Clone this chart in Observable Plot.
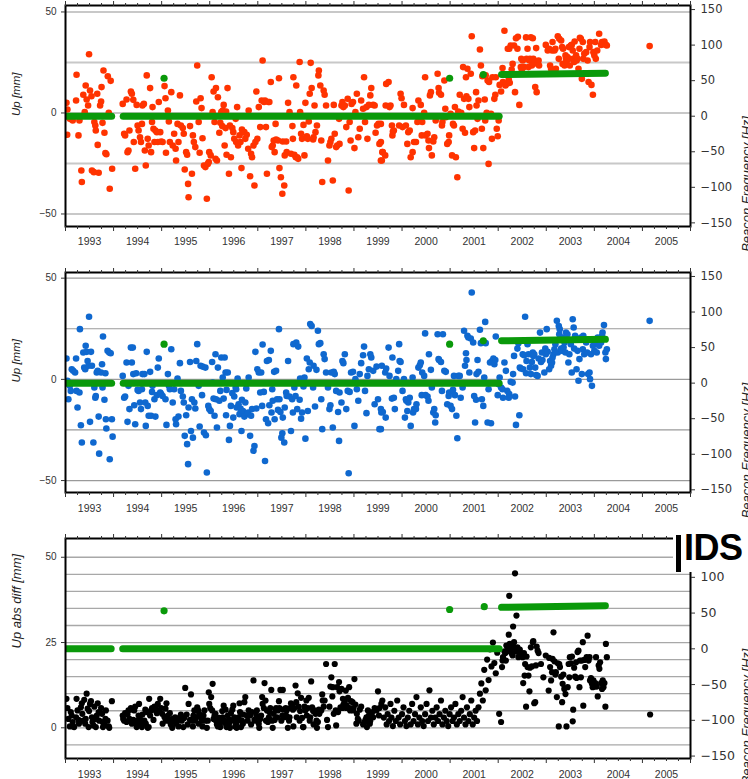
<!DOCTYPE html>
<html><head><meta charset="utf-8">
<script src="https://cdn.jsdelivr.net/npm/d3@7"></script>
<script src="https://cdn.jsdelivr.net/npm/@observablehq/plot@0.6"></script>
<style>
body{margin:0;background:#fff;font-family:"Liberation Sans",Arial,Helvetica,sans-serif;}
#wrap{position:relative;width:748px;height:779px;overflow:hidden;background:#fff;}
#wrap svg{display:block;}
#ids{position:absolute;left:673px;top:524px;width:75px;height:48px;background:#fff;}
#ids .bar{position:absolute;left:3px;top:11px;width:5px;height:37px;background:#000;}
#ids .txt{position:absolute;left:11px;top:4px;font:bold 36px "Liberation Sans",Arial,sans-serif;color:#000;line-height:40px;letter-spacing:-0.5px;}
</style></head>
<body><div id="wrap"><div id="ids"><div class="bar"></div><div class="txt">IDS</div></div></div>
<script>
// ---------- DATA ----------
const yearLabels = ["1993","1994","1995","1996","1997","1998","1999","2000","2001","2002","2003","2004","2005"];
const hzTicks = [-150,-100,-50,0,50,100,150];
const hzTicksLower = [-150,-100,-50,0,50,100];

// Panel 1 (red): [decimal year, Up mm]
const upRed = [
[1993.02,5.0],[1993.04,1.7],[1993.035,-10.8],[1993.09,-2.9],[1993.15,-3.7],[1993.22,6.2],[1993.23,18.9],[1993.27,-11.1],[1993.29,-3.7],[1993.33,-28.5],[1993.34,-34.2],[1993.37,9.0],[1993.40,0.4],[1993.42,13.6],[1993.44,6.7],[1993.47,3.7],[1993.49,29.1],[1993.51,11.1],[1993.54,8.3],[1993.55,-28.5],[1993.59,-29.3],[1993.60,-4.5],[1993.62,-6.2],[1993.63,-8.7],[1993.66,9.5],[1993.67,-15.8],[1993.69,-29.6],[1993.72,3.7],[1993.74,5.7],[1993.75,12.8],[1993.77,-4.9],[1993.79,21.0],[1993.81,-9.8],[1993.83,-19.9],[1993.85,-20.4],[1993.88,18.2],[1993.90,0.1],[1993.92,-37.5],[1993.94,15.9],[1993.97,-27.6],
[1994.19,4.5],[1994.22,-10.3],[1994.24,-11.1],[1994.27,6.7],[1994.29,-19.4],[1994.31,-18.6],[1994.33,-8.7],[1994.36,10.6],[1994.38,9.5],[1994.41,6.5],[1994.42,-14.4],[1994.45,-27.6],[1994.48,4.0],[1994.50,-6.2],[1994.52,-8.7],[1994.55,-12.0],[1994.57,-14.4],[1994.59,-5.4],[1994.60,3.7],[1994.63,4.5],[1994.65,-18.6],[1994.67,-26.0],[1994.69,18.6],[1994.71,-12.8],[1994.73,-16.1],[1994.76,12.3],[1994.78,-19.4],[1994.80,-4.5],[1994.81,2.9],[1994.83,-7.8],[1994.85,-14.4],[1994.87,-8.7],[1994.90,-9.5],[1994.92,-14.4],[1994.94,5.4],[1994.97,-9.5],[1994.99,-14.1],
[1995.02,-14.4],[1995.06,13.3],[1995.08,7.3],[1995.09,-19.7],[1995.13,1.2],[1995.15,-4.2],[1995.17,-14.4],[1995.20,10.3],[1995.23,-16.1],[1995.26,-10.3],[1995.29,-17.7],[1995.30,-23.5],[1995.33,-5.4],[1995.35,-14.4],[1995.38,8.7],[1995.40,-6.2],[1995.44,-7.5],[1995.46,-10.3],[1995.48,-28.0],[1995.51,-19.4],[1995.53,-20.7],[1995.55,-35.1],[1995.56,-41.7],[1995.59,-6.5],[1995.63,-30.1],[1995.65,-11.1],[1995.67,-14.4],[1995.70,-16.9],[1995.72,5.7],[1995.74,23.5],[1995.77,-4.5],[1995.79,-19.7],[1995.81,7.3],[1995.83,2.4],[1995.85,-12.5],[1995.88,-26.0],[1995.91,-26.8],[1995.94,-42.5],[1995.96,-25.2],[1995.98,-24.3],[1995.99,-19.4],
[1996.02,-21.0],[1996.04,17.7],[1996.06,0.4],[1996.08,10.6],[1996.10,-4.5],[1996.12,-22.7],[1996.13,12.3],[1996.15,-23.5],[1996.17,7.8],[1996.20,-9.8],[1996.22,-4.9],[1996.24,0.4],[1996.26,-6.5],[1996.27,1.2],[1996.29,4.0],[1996.31,-16.1],[1996.33,-7.5],[1996.34,0.7],[1996.35,-20.7],[1996.37,12.3],[1996.40,-30.1],[1996.42,-6.2],[1996.44,-21.9],[1996.47,-7.5],[1996.49,-9.5],[1996.51,-12.8],[1996.54,-2.9],[1996.55,-14.4],[1996.57,2.9],[1996.59,-16.1],[1996.62,-11.1],[1996.64,-14.4],[1996.66,-27.3],[1996.67,-8.2],[1996.69,-9.5],[1996.72,-9.5],[1996.74,-12.8],[1996.77,-10.8],[1996.80,-17.7],[1996.81,1.2],[1996.84,-31.3],[1996.86,-20.2],[1996.88,-21.9],[1996.91,-16.1],[1996.93,-35.9],[1996.95,-14.4],[1996.97,10.6],[1996.99,-12.8],
[1997.02,2.9],[1997.05,-7.0],[1997.08,6.2],[1997.10,26.0],[1997.13,5.4],[1997.15,6.2],[1997.17,-7.0],[1997.19,-30.1],[1997.22,5.4],[1997.24,5.4],[1997.27,15.3],[1997.29,-16.9],[1997.31,-16.1],[1997.33,-13.6],[1997.35,-19.4],[1997.37,-5.4],[1997.38,-13.1],[1997.42,-13.6],[1997.44,17.2],[1997.45,-27.3],[1997.48,-31.8],[1997.51,-40.0],[1997.52,-14.1],[1997.55,-35.9],[1997.56,-21.0],[1997.59,-14.1],[1997.60,-19.4],[1997.63,5.0],[1997.66,0.4],[1997.69,-20.2],[1997.72,-6.5],[1997.73,-12.8],[1997.74,17.7],[1997.76,-20.7],[1997.79,-21.9],[1997.80,13.6],[1997.82,-21.9],[1997.84,-22.7],[1997.87,25.2],[1997.88,0.4],[1997.90,-10.3],[1997.92,-12.8],[1997.95,-5.9],[1997.97,-21.0],[1997.99,5.0],
[1998.02,-11.5],[1998.04,-12.8],[1998.06,-4.2],[1998.08,9.5],[1998.10,24.8],[1998.12,12.3],[1998.15,-13.1],[1998.16,-12.0],[1998.18,3.7],[1998.20,-9.5],[1998.23,-6.2],[1998.26,18.6],[1998.27,21.0],[1998.30,13.6],[1998.32,-13.6],[1998.34,-34.2],[1998.37,11.1],[1998.39,9.0],[1998.42,3.7],[1998.46,-23.5],[1998.49,-16.1],[1998.51,-14.4],[1998.53,-12.8],[1998.56,-33.4],[1998.58,4.0],[1998.60,-10.3],[1998.63,-16.9],[1998.65,-16.1],[1998.69,-2.9],[1998.70,-15.3],[1998.74,3.7],[1998.76,5.4],[1998.78,2.9],[1998.81,3.7],[1998.84,-7.0],[1998.87,7.0],[1998.89,-38.4],[1998.91,-4.5],[1998.93,-13.6],[1998.95,4.5],[1998.98,5.4],
[1999.01,-17.4],[1999.03,0.4],[1999.06,9.5],[1999.09,-12.0],[1999.12,-7.8],[1999.15,6.2],[1999.19,2.1],[1999.21,17.7],[1999.23,-4.5],[1999.26,2.9],[1999.28,-12.8],[1999.31,4.0],[1999.34,8.7],[1999.36,12.3],[1999.40,4.0],[1999.43,3.7],[1999.45,-9.8],[1999.48,-6.2],[1999.51,-5.4],[1999.53,-15.3],[1999.56,-23.5],[1999.59,-19.4],
[1999.56,-5.4],[1999.56,-14.4],[1999.58,-23.5],[1999.60,-19.4],[1999.65,-21.0],[1999.66,3.7],[1999.67,14.4],[1999.72,15.3],[1999.74,2.9],[1999.76,3.7],[1999.79,-6.2],[1999.80,-11.1],[1999.81,-9.2],[1999.83,-8.7],[1999.94,-6.2],[1999.97,9.5],[1999.99,7.3],
[2000.01,-7.0],[2000.04,4.0],[2000.08,-6.2],[2000.11,-15.3],[2000.13,-9.5],[2000.16,-8.7],[2000.18,-21.9],[2000.22,2.4],[2000.22,-19.4],[2000.25,-14.4],[2000.29,-14.4],[2000.32,-4.5],[2000.34,6.2],[2000.35,-3.7],[2000.39,4.0],[2000.41,-11.1],[2000.42,-4.5],[2000.46,0.1],[2000.48,17.7],[2000.49,-11.1],[2000.53,-10.3],[2000.55,-13.6],[2000.56,-17.4],[2000.58,8.7],[2000.60,10.3],[2000.62,-21.0],[2000.65,-14.1],[2000.67,-12.0],[2000.70,-3.7],[2000.74,19.4],[2000.76,12.3],[2000.77,10.0],[2000.81,9.0],[2000.83,-6.2],[2000.84,-4.5],[2000.88,16.1],[2000.90,2.1],[2000.91,-2.1],[2000.94,-15.3],[2000.97,-14.4],[2000.98,-11.1],
[2001.01,-0.4],[2001.04,-21.0],[2001.06,-5.4],[2001.08,-6.2],[2001.10,2.9],[2001.12,-21.9],[2001.15,-31.8],[2001.17,0.7],[2001.20,9.0],[2001.23,0.1],[2001.26,-7.8],[2001.27,22.7],[2001.29,7.0],[2001.31,-9.8],[2001.33,17.7],[2001.34,8.3],[2001.36,21.9],[2001.38,7.0],[2001.40,2.9],[2001.43,19.4],[2001.45,38.0],[2001.48,-9.5],[2001.50,-17.4],[2001.52,-8.7],[2001.54,10.3],[2001.55,3.7],[2001.57,-2.9],[2001.59,6.2],[2001.62,31.4],[2001.64,23.5],[2001.66,-7.8],[2001.67,18.2],[2001.69,-17.4],[2001.72,6.7],[2001.73,-3.7],[2001.74,18.6],[2001.76,0.1],[2001.78,16.1],[2001.80,-25.2],[2001.81,15.3],[2001.85,-0.4],[2001.87,-12.8],[2001.88,17.7],[2001.92,7.0],[2001.94,9.0],[2001.95,17.7],[2001.97,-7.8],[2001.99,-11.5],
[2002.01,-3.7],[2002.03,13.9],[2002.06,10.6],[2002.09,22.2],[2002.10,15.3],[2002.13,40.7],[2002.15,13.6],[2002.17,14.4],[2002.20,31.8],[2002.22,16.6],[2002.23,31.8],[2002.24,14.9],[2002.26,33.4],[2002.28,21.5],[2002.30,24.3],[2002.33,33.4],[2002.35,10.3],[2002.37,37.0],[2002.40,31.8],[2002.41,37.7],[2002.44,4.0],[2002.47,22.7],[2002.48,26.8],[2002.49,21.5],[2002.51,26.0],[2002.54,22.7],[2002.58,37.4],[2002.59,26.8],[2002.61,31.8],[2002.63,22.7],[2002.65,26.0],[2002.66,26.8],[2002.68,37.5],[2002.70,23.5],[2002.72,37.0],[2002.73,26.8],[2002.75,24.8],[2002.77,12.8],[2002.79,32.1],[2002.80,10.3],[2002.82,24.3],[2002.84,26.0],[2002.85,23.5],[2002.99,33.7],
[2003.03,30.9],[2003.06,31.8],[2003.08,23.5],[2003.10,21.9],[2003.12,30.9],[2003.13,35.1],[2003.17,30.9],[2003.19,31.8],[2003.20,21.9],[2003.24,38.0],[2003.26,26.8],[2003.27,36.7],[2003.31,35.9],[2003.33,32.6],[2003.34,24.3],[2003.35,31.8],[2003.38,23.5],[2003.40,28.5],[2003.41,26.8],[2003.42,25.2],[2003.44,27.7],[2003.47,32.6],[2003.48,26.8],[2003.49,23.5],[2003.51,33.4],[2003.53,33.7],[2003.55,30.9],[2003.56,26.8],[2003.58,25.2],[2003.59,35.4],[2003.62,28.5],[2003.63,26.0],[2003.65,26.8],[2003.67,21.9],[2003.69,31.8],[2003.70,37.2],[2003.72,36.7],[2003.74,16.9],[2003.76,35.1],[2003.77,26.8],[2003.79,29.3],[2003.83,30.1],[2003.86,26.0],[2003.88,15.3],[2003.90,32.6],[2003.91,35.1],[2003.94,13.9],[2003.97,9.0],[2003.98,30.1],
[2004.00,28.5],[2004.02,35.1],[2004.03,26.8],[2004.06,30.9],[2004.10,39.2],[2004.14,33.7],[2004.16,35.1],[2004.19,34.2],[2004.21,35.4],[2004.24,33.7],[2004.26,33.4],[2005.15,33.1]
];

// Panel 2 (blue): [decimal year, Up mm]
const upBlue = [
[1993.02,10.3],[1993.04,-0.7],[1993.06,-9.8],[1993.09,-3.2],[1993.11,-5.7],[1993.13,5.0],[1993.16,4.2],[1993.20,3.4],[1993.22,10.3],[1993.23,-5.7],[1993.25,-13.9],[1993.29,-6.5],[1993.30,24.8],[1993.32,-22.7],[1993.34,-31.2],[1993.37,13.3],[1993.39,5.8],[1993.41,5.0],[1993.42,16.6],[1993.44,13.6],[1993.46,9.1],[1993.48,6.7],[1993.49,30.9],[1993.51,-21.0],[1993.53,13.6],[1993.55,6.7],[1993.58,-31.2],[1993.60,-4.0],[1993.62,-9.1],[1993.63,-8.2],[1993.65,3.4],[1993.67,4.2],[1993.69,-18.4],[1993.70,-36.7],[1993.74,3.4],[1993.76,7.5],[1993.77,-4.0],[1993.78,21.2],[1993.81,-10.1],[1993.83,3.0],[1993.84,-19.7],[1993.85,-24.3],[1993.875,14.1],[1993.91,13.3],[1993.92,-39.5],[1993.94,12.9],[1993.965,-19.7],[1993.98,-28.3],
[1994.19,1.7],[1994.22,-9.1],[1994.24,-8.5],[1994.27,8.3],[1994.29,-21.0],[1994.31,-3.2],[1994.33,-14.7],[1994.36,15.7],[1994.38,8.3],[1994.40,15.7],[1994.41,2.6],[1994.43,-12.8],[1994.45,-22.2],[1994.47,3.0],[1994.50,-5.2],[1994.52,-5.7],[1994.55,-11.4],[1994.57,-14.7],[1994.59,-4.9],[1994.60,2.6],[1994.64,2.6],[1994.66,-11.4],[1994.67,-23.0],[1994.69,13.6],[1994.71,-13.1],[1994.73,-18.0],[1994.76,3.7],[1994.78,-18.0],[1994.80,-6.2],[1994.81,-3.2],[1994.85,-9.8],[1994.87,-18.4],[1994.90,-7.8],[1994.92,5.8],[1994.94,10.3],[1994.97,-6.5],[1994.99,-7.3],
[1995.02,-8.2],[1995.08,-9.8],[1995.10,-22.5],[1995.13,2.6],[1995.15,-3.2],[1995.17,-4.9],[1995.20,14.9],[1995.23,-11.4],[1995.26,-4.9],[1995.29,-19.7],[1995.30,-22.2],[1995.33,0.4],[1995.35,-18.4],[1995.38,8.0],[1995.40,-5.7],[1995.44,-8.5],[1995.46,-11.4],[1995.48,-27.9],[1995.51,-17.7],[1995.53,-32.0],[1995.55,-41.9],[1995.56,-13.9],[1995.59,8.6],[1995.61,-25.5],[1995.63,-9.8],[1995.65,-28.8],[1995.68,-11.4],[1995.70,-14.4],[1995.72,9.1],[1995.74,17.4],[1995.77,-3.2],[1995.79,-23.3],[1995.81,6.7],[1995.84,-7.8],[1995.85,6.3],[1995.88,-26.3],[1995.91,5.8],[1995.92,-27.6],[1995.94,-46.0],[1995.97,-13.1],[1995.99,-14.7],
[1996.02,-15.6],[1996.05,8.6],[1996.06,-1.6],[1996.08,-9.5],[1996.10,-18.0],[1996.12,12.4],[1996.13,-9.8],[1996.15,-23.8],[1996.17,5.8],[1996.20,-10.6],[1996.22,-5.7],[1996.24,10.8],[1996.27,0.9],[1996.29,-9.5],[1996.31,10.8],[1996.33,3.4],[1996.34,-17.7],[1996.35,-5.2],[1996.375,3.4],[1996.40,-29.9],[1996.42,-23.0],[1996.44,-13.1],[1996.47,-6.8],[1996.49,-18.9],[1996.51,-8.5],[1996.54,-4.0],[1996.55,-4.9],[1996.56,-13.9],[1996.58,0.4],[1996.60,-12.3],[1996.62,-17.2],[1996.64,-14.4],[1996.66,-25.5],[1996.67,-10.1],[1996.69,-15.6],[1996.72,-18.4],[1996.74,-11.4],[1996.76,-4.5],[1996.78,-17.2],[1996.80,-16.4],[1996.81,0.9],[1996.84,-27.9],[1996.86,-18.0],[1996.88,-14.7],[1996.91,-35.3],[1996.93,-32.9],[1996.95,13.6],[1996.97,-14.4],[1996.99,5.0],
[1997.02,3.4],[1997.05,-6.5],[1997.07,3.4],[1997.09,-13.1],[1997.10,17.2],[1997.125,-6.2],[1997.15,-40.3],[1997.17,-19.7],[1997.19,9.1],[1997.215,-21.7],[1997.23,9.6],[1997.24,-12.8],[1997.27,14.1],[1997.285,-16.4],[1997.30,-4.9],[1997.31,-10.6],[1997.34,3.7],[1997.35,-19.7],[1997.38,4.2],[1997.40,-9.8],[1997.42,-15.1],[1997.44,24.8],[1997.45,-9.8],[1997.47,-16.1],[1997.49,-28.8],[1997.51,-26.6],[1997.52,-18.9],[1997.55,-31.2],[1997.56,-13.9],[1997.59,-6.5],[1997.60,-8.2],[1997.63,9.1],[1997.66,-8.5],[1997.69,-25.5],[1997.715,-9.8],[1997.73,-16.4],[1997.74,17.4],[1997.76,-4.0],[1997.785,-8.2],[1997.80,18.2],[1997.82,-14.7],[1997.84,16.2],[1997.87,-10.1],[1997.88,0.4],[1997.90,-19.4],[1997.92,-16.4],[1997.95,-3.5],[1997.97,0.9],[1997.99,-29.3],
[1998.02,10.3],[1998.04,-15.6],[1998.06,5.0],[1998.08,8.3],[1998.09,27.3],[1998.12,26.4],[1998.15,-4.0],[1998.16,6.7],[1998.19,-13.4],[1998.22,4.7],[1998.25,24.0],[1998.27,17.4],[1998.30,17.9],[1998.32,-9.8],[1998.34,-24.6],[1998.37,12.4],[1998.39,10.0],[1998.42,3.4],[1998.46,-4.0],[1998.49,-14.7],[1998.51,-12.8],[1998.53,3.4],[1998.56,-23.8],[1998.58,3.7],[1998.60,2.6],[1998.63,-5.7],[1998.67,-16.1],[1998.69,-30.4],[1998.70,-6.5],[1998.74,-11.4],[1998.76,9.1],[1998.78,8.0],[1998.81,12.4],[1998.84,-14.7],[1998.87,-5.7],[1998.89,-46.4],[1998.91,-6.2],[1998.94,3.4],[1998.98,3.7],
[1999.01,-23.0],[1999.03,0.1],[1999.06,-4.9],[1999.09,-10.6],[1999.12,2.6],[1999.15,8.0],[1999.19,11.9],[1999.21,16.2],[1999.23,-5.7],[1999.26,-16.7],[1999.28,1.7],[1999.31,5.0],[1999.34,12.4],[1999.36,10.8],[1999.40,4.2],[1999.43,-12.3],[1999.47,6.3],[1999.50,-9.8],[1999.53,-24.6],[1999.57,-16.4],
[1999.56,-14.7],[1999.56,-24.6],[1999.58,6.7],[1999.60,-16.1],[1999.65,3.4],[1999.66,-18.9],[1999.67,5.4],[1999.72,15.7],[1999.74,1.7],[1999.79,-9.5],[1999.80,10.8],[1999.83,-9.1],[1999.85,-14.7],[1999.88,0.1],[1999.92,4.2],[1999.94,17.4],[1999.95,9.1],[1999.97,8.6],
[2000.01,-5.7],[2000.04,0.1],[2000.06,-18.9],[2000.08,-9.8],[2000.09,-10.6],[2000.11,-15.6],[2000.13,-11.4],[2000.16,-9.1],[2000.18,-23.0],[2000.22,0.9],[2000.23,-16.4],[2000.25,-14.7],[2000.29,-14.7],[2000.30,-12.3],[2000.34,5.8],[2000.37,7.0],[2000.39,8.3],[2000.41,-7.8],[2000.42,3.4],[2000.46,1.7],[2000.48,22.7],[2000.49,-7.8],[2000.53,-8.5],[2000.55,-10.6],[2000.56,12.4],[2000.60,4.7],[2000.62,-4.0],[2000.65,-16.4],[2000.67,-14.7],[2000.69,-21.3],[2000.70,-17.7],[2000.74,22.3],[2000.76,10.0],[2000.77,9.6],[2000.81,8.6],[2000.83,-5.7],[2000.85,22.3],[2000.88,4.2],[2000.91,3.7],[2000.94,-12.3],[2000.97,-8.2],[2000.98,-6.5],
[2001.01,-13.1],[2001.04,-14.7],[2001.06,-5.2],[2001.08,1.7],[2001.10,-7.8],[2001.13,-18.0],[2001.15,-29.1],[2001.17,1.7],[2001.20,1.7],[2001.22,-9.1],[2001.26,-4.0],[2001.29,24.0],[2001.31,6.7],[2001.33,12.9],[2001.34,9.6],[2001.36,21.5],[2001.38,20.7],[2001.40,3.4],[2001.43,20.2],[2001.45,42.9],[2001.48,18.2],[2001.50,-8.2],[2001.52,-21.3],[2001.54,-10.1],[2001.55,2.6],[2001.57,9.6],[2001.59,3.7],[2001.62,24.5],[2001.64,17.9],[2001.66,-9.8],[2001.69,-13.1],[2001.71,0.9],[2001.73,28.4],[2001.74,17.9],[2001.78,-21.3],[2001.80,-4.9],[2001.83,8.3],[2001.85,-21.7],[2001.87,9.1],[2001.90,10.3],[2001.92,7.5],[2001.94,9.6],[2001.95,21.2],[2001.99,-7.8],
[2002.01,-2.4],[2002.03,0.9],[2002.06,-4.0],[2002.09,-4.9],[2002.10,-9.1],[2002.13,8.3],[2002.16,4.2],[2002.19,-5.7],[2002.22,-9.1],[2002.23,-7.3],[2002.26,-1.2],[2002.30,-1.6],[2002.31,2.6],[2002.33,11.6],[2002.35,-8.5],[2002.37,-22.5],[2002.40,15.2],[2002.42,17.9],[2002.44,-17.7],[2002.45,5.8],[2002.47,5.4],[2002.51,12.4],[2002.52,5.0],[2002.54,11.9],[2002.56,30.9],[2002.58,3.0],[2002.59,9.1],[2002.61,17.4],[2002.63,12.4],[2002.66,5.8],[2002.68,2.6],[2002.70,8.6],[2002.72,13.3],[2002.73,11.6],[2002.75,12.4],[2002.77,5.8],[2002.79,2.1],[2002.82,1.7],[2002.84,10.3],[2002.87,23.1],[2002.89,8.6],[2002.91,13.3],[2002.92,9.6],[2002.96,3.4],[2002.98,15.2],[2002.99,12.4],
[2003.01,24.8],[2003.03,13.6],[2003.06,5.0],[2003.08,9.1],[2003.10,6.7],[2003.12,8.3],[2003.13,10.8],[2003.15,12.4],[2003.17,14.9],[2003.19,17.4],[2003.22,28.9],[2003.24,13.3],[2003.26,26.4],[2003.27,22.3],[2003.28,24.8],[2003.31,15.2],[2003.33,14.1],[2003.34,20.7],[2003.36,15.7],[2003.38,18.2],[2003.40,13.3],[2003.41,23.1],[2003.44,22.3],[2003.46,8.3],[2003.48,12.4],[2003.51,17.4],[2003.53,3.4],[2003.55,29.7],[2003.57,25.6],[2003.58,15.2],[2003.60,21.5],[2003.63,5.0],[2003.65,14.1],[2003.67,-0.7],[2003.69,10.0],[2003.72,20.7],[2003.74,2.6],[2003.76,14.9],[2003.77,21.5],[2003.79,12.4],[2003.83,18.2],[2003.85,13.3],[2003.87,2.6],[2003.90,3.4],[2003.91,0.1],[2003.93,12.4],[2003.95,-3.2],[2003.97,16.6],
[2004.00,14.1],[2004.02,18.2],[2004.05,13.3],[2004.07,20.7],[2004.10,16.6],[2004.12,19.9],[2004.14,18.2],[2004.16,21.5],[2004.17,23.1],[2004.20,26.8],[2004.23,13.3],[2004.24,10.0],[2004.26,14.9],[2005.15,28.9]
];

// Panel 3 (black): [decimal year, Up abs diff mm]
const upDiff = [
[1993.02,8.5],[1993.04,5.8],[1993.06,2.6],[1993.09,0.4],[1993.11,4.6],[1993.13,3.6],[1993.15,1.7],[1993.16,0.4],[1993.18,0.2],[1993.22,3.1],[1993.23,8.5],[1993.25,5.1],[1993.27,2.3],[1993.28,1.2],[1993.32,6.0],[1993.34,7.2],[1993.35,4.1],[1993.37,2.1],[1993.39,8.2],[1993.41,1.2],[1993.42,2.6],[1993.44,10.0],[1993.46,5.6],[1993.48,0.2],[1993.49,4.9],[1993.51,7.0],[1993.53,7.8],[1993.55,3.1],[1993.56,1.7],[1993.58,0.7],[1993.60,6.2],[1993.62,2.6],[1993.63,0.2],[1993.65,3.6],[1993.67,7.2],[1993.69,4.6],[1993.70,2.1],[1993.74,5.8],[1993.76,4.1],[1993.77,1.7],[1993.78,0.2],[1993.81,1.2],[1993.83,2.6],[1993.84,5.1],[1993.875,2.1],[1993.90,0.4],[1993.91,0.0],[1993.965,7.8],
[1994.19,3.6],[1994.20,2.6],[1994.22,2.1],[1994.24,4.3],[1994.27,1.7],[1994.29,3.9],[1994.31,5.1],[1994.33,2.6],[1994.36,5.8],[1994.38,1.2],[1994.40,5.3],[1994.41,2.3],[1994.43,5.1],[1994.45,6.2],[1994.47,1.2],[1994.48,0.2],[1994.50,2.1],[1994.52,3.6],[1994.53,7.0],[1994.55,2.6],[1994.57,1.2],[1994.59,0.2],[1994.60,3.9],[1994.64,2.1],[1994.66,5.3],[1994.67,1.2],[1994.69,4.6],[1994.71,0.0],[1994.73,0.2],[1994.74,8.5],[1994.76,3.6],[1994.78,5.1],[1994.80,5.8],[1994.81,5.3],[1994.83,2.3],[1994.85,6.2],[1994.87,5.6],[1994.90,4.3],[1994.92,7.0],[1994.94,5.1],[1994.97,8.5],[1994.99,5.8],
[1995.01,4.1],[1995.02,1.2],[1995.06,3.1],[1995.08,5.6],[1995.09,2.1],[1995.10,7.2],[1995.13,3.6],[1995.15,2.1],[1995.17,4.3],[1995.19,1.0],[1995.22,0.0],[1995.23,2.6],[1995.26,2.1],[1995.28,3.1],[1995.30,1.2],[1995.33,2.1],[1995.35,0.4],[1995.38,3.1],[1995.40,3.9],[1995.42,2.1],[1995.45,0.2],[1995.47,2.9],[1995.49,11.7],[1995.52,3.9],[1995.54,1.0],[1995.56,7.0],[1995.59,2.3],[1995.61,9.8],[1995.63,2.1],[1995.65,0.4],[1995.66,3.6],[1995.68,5.1],[1995.70,2.1],[1995.72,3.1],[1995.74,6.0],[1995.76,5.1],[1995.77,1.2],[1995.78,4.1],[1995.81,3.1],[1995.84,2.1],[1995.85,0.4],[1995.87,3.6],[1995.89,5.1],[1995.91,2.1],[1995.94,0.0],[1995.96,2.1],[1995.98,10.4],[1995.99,7.0],
[1996.01,5.8],[1996.03,9.0],[1996.05,5.1],[1996.06,12.9],[1996.08,2.6],[1996.10,3.6],[1996.12,4.1],[1996.13,2.1],[1996.15,1.0],[1996.17,0.4],[1996.19,2.1],[1996.20,2.9],[1996.22,0.2],[1996.24,1.7],[1996.26,4.9],[1996.27,3.1],[1996.29,6.5],[1996.31,2.1],[1996.33,5.3],[1996.34,1.0],[1996.35,0.2],[1996.375,3.6],[1996.40,1.2],[1996.41,2.3],[1996.42,0.0],[1996.44,4.3],[1996.47,5.3],[1996.48,2.1],[1996.49,6.5],[1996.51,3.1],[1996.53,0.4],[1996.55,1.2],[1996.56,0.0],[1996.58,2.1],[1996.60,3.1],[1996.62,7.2],[1996.63,4.6],[1996.65,0.2],[1996.67,2.1],[1996.69,1.2],[1996.70,3.9],[1996.72,7.5],[1996.74,9.0],[1996.77,3.6],[1996.79,2.1],[1996.81,5.1],[1996.84,3.6],[1996.86,1.0],[1996.88,4.6],[1996.91,13.9],[1996.93,2.3],[1996.95,2.1],[1996.97,3.6],[1996.98,5.1],
[1997.00,3.1],[1997.02,1.2],[1997.03,0.0],[1997.05,2.6],[1997.07,3.6],[1997.09,9.0],[1997.10,7.0],[1997.125,5.8],[1997.14,13.1],[1997.16,8.0],[1997.17,2.1],[1997.19,5.1],[1997.21,1.7],[1997.23,3.1],[1997.24,4.6],[1997.26,5.8],[1997.28,11.1],[1997.30,2.1],[1997.31,0.0],[1997.33,4.1],[1997.35,2.3],[1997.37,5.3],[1997.38,5.8],[1997.40,3.1],[1997.42,5.1],[1997.44,7.8],[1997.45,5.8],[1997.47,11.1],[1997.49,2.1],[1997.51,3.6],[1997.52,11.1],[1997.53,5.3],[1997.56,3.1],[1997.58,5.8],[1997.59,3.6],[1997.60,5.1],[1997.625,0.0],[1997.65,2.1],[1997.66,3.1],[1997.67,5.8],[1997.69,7.2],[1997.715,6.5],[1997.73,5.3],[1997.74,0.4],[1997.76,5.8],[1997.785,12.4],[1997.80,7.5],[1997.81,3.1],[1997.83,10.1],[1997.85,6.2],[1997.87,2.1],[1997.88,4.9],[1997.90,8.8],[1997.92,2.9],[1997.94,0.2],[1997.95,0.2],[1997.97,6.2],[1997.99,5.1],
[1998.01,8.0],[1998.02,3.6],[1998.04,5.8],[1998.06,8.8],[1998.08,2.1],[1998.09,3.1],[1998.11,13.6],[1998.13,6.0],[1998.15,4.9],[1998.16,1.0],[1998.18,5.1],[1998.20,4.1],[1998.22,2.1],[1998.23,0.0],[1998.25,1.7],[1998.27,5.3],[1998.28,4.1],[1998.32,5.1],[1998.34,9.8],[1998.35,8.0],[1998.37,6.2],[1998.39,8.0],[1998.42,18.7],[1998.44,2.3],[1998.46,0.2],[1998.49,6.2],[1998.51,12.1],[1998.53,14.8],[1998.55,9.2],[1998.56,11.9],[1998.58,4.1],[1998.60,18.7],[1998.62,5.1],[1998.63,0.7],[1998.65,11.9],[1998.67,4.6],[1998.69,13.4],[1998.70,10.7],[1998.72,6.0],[1998.74,11.4],[1998.76,5.8],[1998.77,8.5],[1998.78,6.8],[1998.81,7.8],[1998.83,10.9],[1998.84,5.8],[1998.85,6.5],[1998.875,8.8],[1998.90,11.9],[1998.91,5.8],[1998.92,5.1],[1998.94,7.8],[1998.97,7.5],[1998.98,5.1],[1998.99,5.8],
[1999.01,14.3],[1999.03,6.8],[1999.05,1.2],[1999.06,4.1],[1999.08,2.6],[1999.10,2.1],[1999.12,5.3],[1999.15,6.2],[1999.19,1.0],[1999.22,1.7],[1999.24,2.3],[1999.26,3.1],[1999.27,0.2],[1999.29,5.1],[1999.31,3.6],[1999.33,1.2],[1999.34,2.1],[1999.36,3.9],[1999.38,4.6],[1999.40,3.1],[1999.43,5.8],[1999.47,5.1],[1999.50,10.7],[1999.52,3.6],[1999.53,5.8],[1999.57,7.0],[1999.59,8.0],
[1999.62,3],[1999.65,6],[1999.68,1],[1999.70,4],[1999.73,2],[1999.76,7],[1999.78,3],[1999.81,0.5],[1999.84,5],[1999.87,2],[1999.90,8],[1999.93,3],[1999.96,1],[2000.00,4],[2000.03,6],[2000.06,2],[2000.09,0.5],[2000.12,3],[2000.15,5],[2000.18,1],[2000.21,7],[2000.24,2],[2000.27,4],[2000.30,9],[2000.33,1],[2000.36,3],[2000.39,6],[2000.42,2],[2000.45,0.5],[2000.48,4],[2000.51,7],[2000.54,2],[2000.57,11],[2000.60,3],[2000.63,5],[2000.66,1],[2000.69,3],[2000.72,6],[2000.75,2],[2000.78,4],[2000.81,8],[2000.84,1],[2000.87,3],[2000.90,5],[2000.93,2],[2000.96,0.5],[2000.99,4],[2001.02,6],[2001.05,2],[2001.08,3],[2001.11,7],[2001.14,1],[2001.17,4],[2001.20,2],[2001.23,5],[2001.26,9],[2001.29,3],[2001.32,1],[2001.35,6],[2001.38,2],[2001.41,4],[2001.44,8],[2001.47,1],[2001.50,3],[2001.53,5],[2001.56,2],[2001.59,6],[2001.62,10],[2001.65,13],[2001.68,8],[2001.71,17],[2001.74,11],[2001.77,20],[2001.80,14],[2001.83,23],[2001.86,18],[2001.89,25],[2001.92,19],[2001.95,16],[2001.98,22],
[2002.02,4.1],[2002.06,1.7],[2002.08,17.8],[2002.09,19.7],[2002.10,20.7],[2002.13,22.4],[2002.15,21.9],[2002.16,19.7],[2002.17,24.1],[2002.20,23.1],[2002.22,27.3],[2002.23,38.7],[2002.23,22.6],[2002.24,24.6],[2002.26,22.2],[2002.285,21.7],[2002.30,21.2],[2002.31,29.7],[2002.31,23.6],[2002.33,25.1],[2002.35,45.3],[2002.37,22.4],[2002.38,32.9],[2002.40,23.6],[2002.42,20.7],[2002.44,21.2],[2002.45,22.9],[2002.47,21.9],[2002.48,21.5],[2002.49,20.9],[2002.51,20.7],[2002.52,13.1],[2002.535,21.9],[2002.55,15.3],[2002.56,18.7],[2002.58,6.2],[2002.59,20.9],[2002.61,17.8],[2002.63,15.3],[2002.65,10.7],[2002.66,17.6],[2002.68,23.6],[2002.70,18.0],[2002.72,25.1],[2002.73,25.4],[2002.75,7.2],[2002.77,7.5],[2002.785,18.3],[2002.80,23.8],[2002.82,22.6],[2002.84,21.9],[2002.89,18.7],[2002.94,14.8],[2002.99,21.2],
[2003.05,10.9],[2003.06,20.5],[2003.08,17.8],[2003.10,13.9],[2003.12,16.3],[2003.13,20.2],[2003.15,28.0],[2003.17,19.5],[2003.19,15.6],[2003.20,16.3],[2003.22,9.0],[2003.24,18.9],[2003.26,0.4],[2003.27,18.7],[2003.285,17.8],[2003.31,15.0],[2003.33,7.5],[2003.34,12.9],[2003.355,15.6],[2003.375,11.4],[2003.40,9.9],[2003.42,0.4],[2003.445,11.9],[2003.465,18.7],[2003.48,14.8],[2003.49,20.7],[2003.515,18.9],[2003.535,20.9],[2003.55,1.9],[2003.56,5.3],[2003.58,17.6],[2003.60,15.0],[2003.62,19.2],[2003.63,14.6],[2003.65,22.2],[2003.67,22.6],[2003.69,11.9],[2003.70,19.7],[2003.72,14.8],[2003.74,19.7],[2003.76,25.1],[2003.77,6.5],[2003.79,19.9],[2003.81,17.8],[2003.84,20.7],[2003.86,27.0],[2003.88,19.7],[2003.90,20.7],[2003.91,13.9],[2003.93,14.6],[2003.95,12.9],[2003.965,11.9],[2003.98,13.9],
[2004.00,12.1],[2004.02,13.1],[2004.035,20.7],[2004.05,12.1],[2004.07,9.2],[2004.09,18.3],[2004.105,17.3],[2004.12,19.2],[2004.14,13.1],[2004.16,11.4],[2004.175,13.9],[2004.19,11.9],[2004.21,13.1],[2004.23,6.2],[2004.24,24.6],[2004.26,20.7],[2005.16,3.9]
];

// Beacon frequency (green): plateaus [start year, end year, Hz at start, Hz at end] and isolated values [year, Hz]
const beaconSteps1 = [[1993.02,1993.96,0,0],[1994.20,2002.02,0,0],[2002.07,2004.23,58.6,60.5]];
const beaconDots1  = [[1995.05,53.4],[2000.99,53.4],[2001.69,58.6]];
const beaconSteps2 = [[1993.02,1993.96,0,0],[1994.20,2002.02,0,0],[2002.07,2004.23,59.6,61.6]];
const beaconDots2  = [[1995.05,54.8],[2000.99,54.8],[2001.69,59.5]];
const beaconSteps3 = [[1993.02,1993.95,0,0],[1994.19,2002.02,0,0],[2002.07,2004.23,58.0,60.3]];
const beaconDots3  = [[1995.05,53.1],[2000.99,55.0],[2001.71,59.0]];

// ---------- CHART ----------
const FONT = '"Liberation Sans", Arial, Helvetica, sans-serif';
function fmtNum(v){ return v < 0 ? "\u2212" + Math.abs(v) : String(v); }

function panel(o){
  const [y0,y1] = o.yDomain, [h0,h1] = o.hzDomain;
  const hz2y = h => y0 + (h - h0) / (h1 - h0) * (y1 - y0);
  const y2hz = y => h0 + (y - y0) / (y1 - y0) * (h1 - h0);
  const years = d3.range(1993, 2007);
  const quarters = d3.range(1993, 2006.001, 0.25).filter(v => v % 1 !== 0);
  const mids = yearLabels.map(s => +s + 0.5);
  return Plot.plot({
    width: 748, height: o.height,
    marginTop: o.mt, marginBottom: o.mb, marginLeft: 65, marginRight: 58,
    x: {domain: [1993, 2006]},
    y: {domain: o.yDomain},
    style: {fontFamily: FONT, fontSize: "10px", color: "#333", background: "white", overflow: "visible"},
    marks: [
      Plot.gridY(o.grid, {stroke: o.gridStroke, strokeOpacity: 1, strokeWidth: o.gridWidth}),
      Plot.dot(o.pts, {x: d => d[0], y: d => d[1], r: o.r, fill: o.color, stroke: "none", clip: true}),
      Plot.link(o.steps, {x1: d => d[0], x2: d => d[1], y1: d => hz2y(d[2]), y2: d => hz2y(d[3]),
        stroke: "#0a990a", strokeWidth: 7, strokeLinecap: "round", clip: true}),
      Plot.dot(o.dots, {x: d => d[0], y: d => hz2y(d[1]), r: 3.6, fill: "#0a990a", stroke: "none"}),
      Plot.frame({stroke: "#000", strokeWidth: 2}),
      Plot.axisX(years, {anchor: "bottom", tickSize: 5, tickFormat: () => "", label: null, stroke: "#333"}),
      Plot.axisX(quarters, {anchor: "bottom", tickSize: 3, tickFormat: () => "", label: null, stroke: "#333"}),
      Plot.axisX(years, {anchor: "top", tickSize: 5, tickFormat: () => "", label: null, stroke: "#333"}),
      Plot.axisX(quarters, {anchor: "top", tickSize: 3, tickFormat: () => "", label: null, stroke: "#333"}),
      Plot.axisX(mids, {anchor: "bottom", tickSize: 0, tickPadding: o.xPad, tickFormat: d => String(Math.floor(d)),
        label: null, fontSize: 10.5, fill: "#333"}),
      Plot.axisY(o.leftTicks, {anchor: "left", tickSize: 4, tickPadding: 5, tickFormat: fmtNum, label: null, fontSize: 10, stroke: "#333", fill: "#333"}),
      Plot.axisY(o.hzTicks.map(hz2y), {anchor: "right", tickSize: 4, tickPadding: 6,
        tickFormat: d => fmtNum(Math.round(y2hz(d))), label: null, fontSize: o.rightFont,
        fontFamily: '"DejaVu Sans", sans-serif', stroke: "#333", fill: "#333"}),
      Plot.text([o.leftLabel], {text: d => d, frameAnchor: "left", dx: -49, rotate: -90,
        fontSize: o.leftLabelSize, fontStyle: "italic", fill: "#222"}),
      Plot.text(["Beacon Frequency [Hz]"], {text: d => d, frameAnchor: "right", dx: 56, rotate: -90,
        fontSize: 13, fontStyle: "italic", fill: "#222"})
    ]
  });
}

const wrap = document.getElementById("wrap");
const ids = document.getElementById("ids");
wrap.insertBefore(panel({
  height: 260, mt: 5, mb: 34, yDomain: [-56.2, 53.2], hzDomain: [-155.1, 155.7], hzTicks: hzTicks,
  pts: upRed, color: "#ff3300", r: 3.3, steps: beaconSteps1, dots: beaconDots1,
  grid: [-50,-25,0,25,50], gridStroke: "#c8c8c8", gridWidth: 2,
  leftTicks: [-50,0,50], leftLabel: "Up [mm]", leftLabelSize: 11.5, xPad: 11, rightFont: 11.5
}), ids);
wrap.insertBefore(panel({
  height: 260, mt: 12, mb: 28, yDomain: [-55.9, 52.8], hzDomain: [-153.8, 155.6], hzTicks: hzTicks,
  pts: upBlue, color: "#0f68cf", r: 3.3, steps: beaconSteps2, dots: beaconDots2,
  grid: [-50,-25,0,25,50], gridStroke: "#9a9a9a", gridWidth: 1.2,
  leftTicks: [-50,0,50], leftLabel: "Up [mm]", leftLabelSize: 11.5, xPad: 12.5, rightFont: 11.5
}), ids);
wrap.insertBefore(panel({
  height: 259, mt: 18, mb: 21, yDomain: [-9.0, 55.5], hzDomain: [-153.4, 154.3], hzTicks: hzTicksLower,
  pts: upDiff, color: "#000", r: 3.1, steps: beaconSteps3, dots: beaconDots3,
  grid: d3.range(-5, 51, 5), gridStroke: "#a8a8a8", gridWidth: 1.3,
  leftTicks: [0,25,50], leftLabel: "Up abs diff [mm]", leftLabelSize: 13, xPad: 12, rightFont: 12.5
}), ids);
</script>
</body></html>
